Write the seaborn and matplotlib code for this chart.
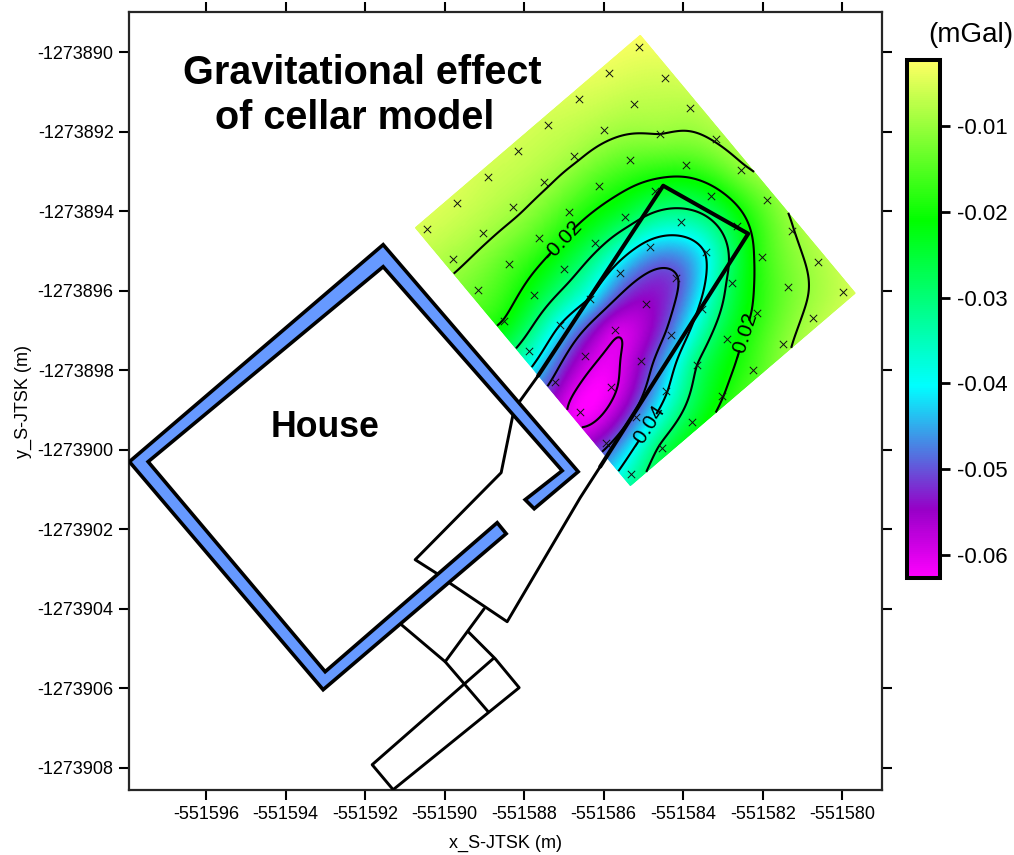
import matplotlib
matplotlib.use('Agg')
import matplotlib.pyplot as plt
from matplotlib.colors import LinearSegmentedColormap, Normalize
import numpy as np
import pandas as pd
import seaborn as sns

# map origin, outlines below are metres east/north of it
X0 = -551590
Y0 = -1273900

# survey stations: rotated 1 m grid
STATION_START = (-0.44, 5.557)
STEP_A = (0.762, 0.652)
STEP_B = (0.642, -0.770)
MARGIN = 0.21

profile_0 = [-.0055, -.0055, -.0060, -.0060, -.0060, -.0052, -.0042, -.0033]
profile_1 = [-.0088, -.0088, -.0088, -.0090, -.0090, -.0085, -.0072, -.0055]
profile_2 = [-.0135, -.0150, -.0155, -.0165, -.0165, -.0145, -.0100, -.0078]
profile_3 = [-.0202, -.0237, -.0260, -.0272, -.0260, -.0233, -.0168, -.0095]
profile_4 = [-.0350, -.0400, -.0405, -.0440, -.0430, -.0347, -.0230, -.0112]
profile_5 = [-.0515, -.0565, -.0592, -.0550, -.0505, -.0395, -.0240, -.0128]
profile_6 = [-.0625, -.0615, -.0545, -.0475, -.0385, -.0275, -.0175, -.0103]
profile_7 = [-.0515, -.0480, -.0405, -.0300, -.0240, -.0185, -.0130, -.0085]
profile_8 = [-.0350, -.0285, -.0250, -.0203, -.0165, -.0115, -.0085, -.0065]

plain_levels = [-0.06, -0.05, -0.03, -0.01]
labelled_levels = [-0.04, -0.02]
cbar_ticks = [-0.06, -0.05, -0.04, -0.03, -0.02, -0.01]
cbar_labels = ['-0.06', '-0.05', '-0.04', '-0.03', '-0.02', '-0.01']
VMIN = -0.0627
VMAX = -0.0023

x_ticks = [-551596, -551594, -551592, -551590, -551588, -551586, -551584, -551582, -551580]
y_ticks = [-1273890, -1273892, -1273894, -1273896, -1273898, -1273900, -1273902, -1273904, -1273906, -1273908]

# house walls, one closed outline with the doorway gap
wall_x = [-1.547, 3.358, 2.252, 2.025, 2.956, -1.547, -7.459, -3.006, 1.321, 1.547, -3.057, -7.93]
wall_y = [5.155, -0.553, -1.484, -1.257, -0.528, 4.601, -0.302, -5.582, -1.836, -2.112, -6.035, -0.302]

# cellar, heavy part
cellar_x = [2.352, 5.497, 7.635, 3.912]
cellar_y = [1.861, 6.638, 5.431, -0.427]

# cellar continuation and rooms, thin
passage_left_x = [2.352, 1.899, 1.723, 1.421, -0.742, -0.189]
passage_left_y = [1.861, 1.232, 0.905, -0.578, -2.766, -3.118]
passage_right_x = [3.912, 3.409, 1.572, 0.113]
passage_right_y = [-0.427, -1.207, -4.325, -3.344]
room_a_x = [0.994, 0.013]
room_a_y = [-3.998, -5.331]
room_b_x = [-1.119, 0.013, 1.094]
room_b_y = [-4.375, -5.331, -6.588]
room_c_x = [0.591, 1.270, 1.874, -1.296, -1.824, 1.220]
room_c_y = [-4.576, -5.255, -5.984, -8.549, -7.921, -5.255]

sns.set_theme(style='ticks', rc={'axes.linewidth': 1.6})
plt.rcParams['font.family'] = ['Liberation Sans', 'DejaVu Sans']

values = np.array([profile_0, profile_1, profile_2, profile_3, profile_4,
                   profile_5, profile_6, profile_7, profile_8])
nb, na = values.shape


def to_map(a, b):
    east = X0 + STATION_START[0] + a * STEP_A[0] + b * STEP_B[0]
    north = Y0 + STATION_START[1] + a * STEP_A[1] + b * STEP_B[1]
    return east, north


def tps_kernel(r2):
    return 0.5 * r2 * np.log(np.where(r2 > 0, r2, 1.0))


# gridding: smoothing thin plate spline through the stations
SMOOTH = 0.03
sa, sb = np.meshgrid(np.arange(na, dtype=float), np.arange(nb, dtype=float))
pa, pb, pv = sa.ravel(), sb.ravel(), values.ravel()
n = pa.size
K = tps_kernel((pa[:, None] - pa) ** 2 + (pb[:, None] - pb) ** 2) + SMOOTH * np.eye(n)
P = np.column_stack([np.ones(n), pa, pb])
system = np.block([[K, P], [P.T, np.zeros((3, 3))]])
weights = np.linalg.solve(system, np.r_[pv, np.zeros(3)])

fa, fb = np.meshgrid(np.linspace(-MARGIN, na - 1 + MARGIN, 240),
                     np.linspace(-MARGIN, nb - 1 + MARGIN, 270))
r2 = (fa.ravel()[:, None] - pa) ** 2 + (fb.ravel()[:, None] - pb) ** 2
field = tps_kernel(r2) @ weights[:n] + weights[n] + weights[n + 1] * fa.ravel() + weights[n + 2] * fb.ravel()
field = field.reshape(fa.shape)
grid_x, grid_y = to_map(fa, fb)

cmap = LinearSegmentedColormap.from_list('gravity', [
    (0.0, (1.0, 0.0, 1.0)),
    ((-0.0548 - VMIN) / (VMAX - VMIN), (0.59, 0.0, 0.78)),
    ((-0.0403 - VMIN) / (VMAX - VMIN), (0.0, 1.0, 1.0)),
    ((-0.021 - VMIN) / (VMAX - VMIN), (0.0, 1.0, 0.0)),
    (1.0, (1.0, 1.0, 0.39)),
])
norm = Normalize(VMIN, VMAX)

fig = plt.figure(figsize=(10.14, 8.55), dpi=100)
ax = fig.add_axes([129 / 1014, 1 - 790 / 855, 753 / 1014, 778 / 855])

mesh = ax.pcolormesh(grid_x, grid_y, field, cmap=cmap, norm=norm, shading='gouraud')
ax.contour(grid_x, grid_y, field, levels=plain_levels, colors='black', linewidths=1.5,
           negative_linestyles='solid')
cs = ax.contour(grid_x, grid_y, field, levels=labelled_levels, colors='black', linewidths=1.5,
                negative_linestyles='solid')
ax.clabel(cs, fmt='%.2f', fontsize=15, inline=True, inline_spacing=3,
          manual=[(X0 + 3.03, Y0 + 5.18), (X0 + 7.384, Y0 + 2.917), (X0 + 5.044, Y0 + 0.603)])

sx, sy = to_map(pa, pb)
stations = pd.DataFrame({'x': sx, 'y': sy})
sns.scatterplot(data=stations, x='x', y='y', marker='x', s=28, color='#111111', linewidth=0.7, ax=ax, zorder=3)

ax.fill(X0 + np.array(wall_x), Y0 + np.array(wall_y), facecolor='#6699ff', edgecolor='black', linewidth=2.6, zorder=4)
ax.plot(X0 + np.array(cellar_x), Y0 + np.array(cellar_y), color='black', linewidth=2.9, zorder=5)
for lx, ly in [(passage_left_x, passage_left_y), (passage_right_x, passage_right_y),
               (room_a_x, room_a_y), (room_b_x, room_b_y), (room_c_x, room_c_y)]:
    ax.plot(X0 + np.array(lx), Y0 + np.array(ly), color='black', linewidth=2.1, zorder=3.5)

ax.set_xlim(-551597.94, -551579.0)
ax.set_ylim(-1273908.557, -1273888.994)
ax.set_xticks(x_ticks)
ax.set_xticklabels([str(t) for t in x_ticks], fontsize=13, color='black')
ax.set_yticks(y_ticks)
ax.set_yticklabels([str(t) for t in y_ticks], fontsize=13, color='black')
ax.tick_params(top=True, right=True, direction='out', length=7.5, width=1.5, color='black')
ax.tick_params(axis='x', pad=4)
ax.tick_params(axis='y', pad=3.5)
ax.set_xlabel('x_S-JTSK (m)', fontsize=13, color='black')
ax.set_ylabel('y_S-JTSK (m)', fontsize=13, color='black')
ax.xaxis.set_label_coords(0.5, -0.058)
ax.yaxis.set_label_coords(-0.129, 0.5)
for spine in ax.spines.values():
    spine.set_visible(True)

fig.text(362 / 1014, 1 - 73 / 855, 'Gravitational effect', fontsize=28.5, fontweight='bold',
         ha='center', va='center', color='black')
fig.text(354.5 / 1014, 1 - 118 / 855, 'of cellar model', fontsize=28.5, fontweight='bold',
         ha='center', va='center', color='black')
ax.text(X0 - 3.02, Y0 + 0.57, 'House', fontsize=25.7, fontweight='bold', ha='center', va='center',
        color='black', zorder=6)

cax = fig.add_axes([907 / 1014, 1 - 578 / 855, 33 / 1014, 518 / 855])
cbar = fig.colorbar(mesh, cax=cax)
cbar.set_ticks(cbar_ticks)
cbar.set_ticklabels(cbar_labels)
cbar.ax.tick_params(length=7.5, width=2, pad=5, labelsize=16, labelcolor='black', color='black')
cbar.outline.set_linewidth(2.9)
cbar.outline.set_edgecolor('black')
fig.text(971 / 1014, 1 - 35 / 855, '(mGal)', fontsize=20, ha='center', va='center', color='black')

fig.savefig('out.png', dpi=100)
